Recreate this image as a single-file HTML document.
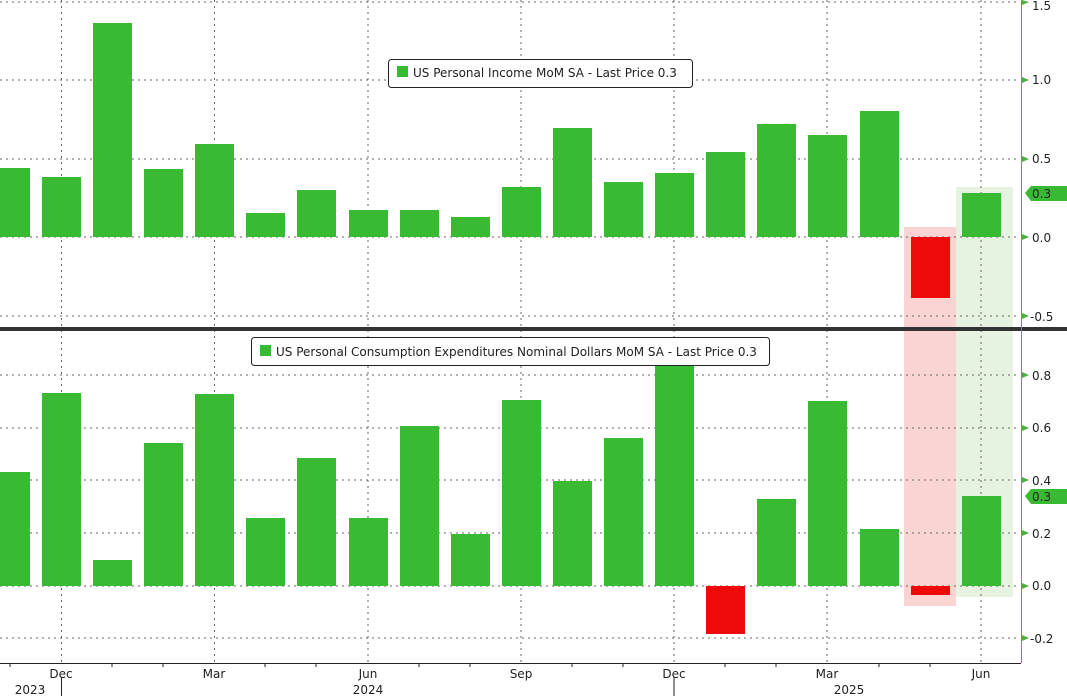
<!DOCTYPE html>
<html><head><style>body{margin:0;background:#fff}svg{display:block}text{font-family:"DejaVu Sans","Liberation Sans",sans-serif;font-size:12px;fill:#222}</style></head><body>
<svg width="1067" height="696" xmlns="http://www.w3.org/2000/svg">
<rect x="904" y="227" width="52" height="379" fill="#f9d4d2"/>
<rect x="956" y="187" width="57" height="410" fill="#e6f3e1"/>
<g stroke="#666" stroke-width="1" stroke-dasharray="2,4">
<line x1="0" y1="2" x2="1020" y2="2"/><line x1="0" y1="80" x2="1020" y2="80"/><line x1="0" y1="159" x2="1020" y2="159"/><line x1="0" y1="237" x2="1020" y2="237"/><line x1="0" y1="316" x2="1020" y2="316"/>
<line x1="0" y1="375" x2="1020" y2="375"/><line x1="0" y1="428" x2="1020" y2="428"/><line x1="0" y1="480" x2="1020" y2="480"/><line x1="0" y1="533" x2="1020" y2="533"/><line x1="0" y1="586" x2="1020" y2="586"/><line x1="0" y1="638" x2="1020" y2="638"/>
<line x1="61.5" y1="0" x2="61.5" y2="663"/><line x1="214.5" y1="0" x2="214.5" y2="663"/><line x1="368" y1="0" x2="368" y2="663"/><line x1="521" y1="0" x2="521" y2="663"/><line x1="674" y1="0" x2="674" y2="663"/><line x1="827" y1="0" x2="827" y2="663"/><line x1="981" y1="0" x2="981" y2="663"/>
</g>
<g fill="#38bb33">
<rect x="-9" y="168" width="39" height="69"/><rect x="42" y="177" width="39" height="60"/><rect x="93" y="23" width="39" height="214"/><rect x="144" y="169" width="39" height="68"/><rect x="195" y="144" width="39" height="93"/><rect x="246" y="213" width="39" height="24"/><rect x="297" y="190" width="39" height="47"/><rect x="349" y="210" width="39" height="27"/><rect x="400" y="210" width="39" height="27"/><rect x="451" y="217" width="39" height="20"/><rect x="502" y="187" width="39" height="50"/><rect x="553" y="128" width="39" height="109"/><rect x="604" y="182" width="39" height="55"/><rect x="655" y="173" width="39" height="64"/><rect x="706" y="152" width="39" height="85"/><rect x="757" y="124" width="39" height="113"/><rect x="808" y="135" width="39" height="102"/><rect x="860" y="111" width="39" height="126"/><rect x="962" y="193" width="39" height="44"/>
</g>
<rect x="911" y="237" width="39" height="61" fill="#ee0a0a"/>
<g fill="#38bb33">
<rect x="-9" y="472" width="39" height="114"/><rect x="42" y="393" width="39" height="193"/><rect x="93" y="560" width="39" height="26"/><rect x="144" y="443" width="39" height="143"/><rect x="195" y="394" width="39" height="192"/><rect x="246" y="518" width="39" height="68"/><rect x="297" y="458" width="39" height="128"/><rect x="349" y="518" width="39" height="68"/><rect x="400" y="426" width="39" height="160"/><rect x="451" y="534" width="39" height="52"/><rect x="502" y="400" width="39" height="186"/><rect x="553" y="481" width="39" height="105"/><rect x="604" y="438" width="39" height="148"/><rect x="655" y="366" width="39" height="220"/><rect x="757" y="499" width="39" height="87"/><rect x="808" y="401" width="39" height="185"/><rect x="860" y="529" width="39" height="57"/><rect x="962" y="496" width="39" height="90"/>
</g>
<rect x="706" y="586" width="39" height="48" fill="#ee0a0a"/>
<rect x="911" y="586" width="39" height="9" fill="#ee0a0a"/>
<rect x="0" y="327" width="1067" height="4" fill="#333"/>
<line x1="1021.5" y1="0" x2="1021.5" y2="663" stroke="#4caf44" stroke-width="1"/>
<g fill="#4caf44">
<polygon points="1022,0 1029,2 1022,5"/><polygon points="1022,77 1029,80 1022,83"/><polygon points="1022,156 1029,159 1022,162"/><polygon points="1022,234 1029,237 1022,240"/><polygon points="1022,313 1029,316 1022,319"/>
<polygon points="1022,372 1029,375 1022,378"/><polygon points="1022,425 1029,428 1022,431"/><polygon points="1022,477 1029,480 1022,483"/><polygon points="1022,530 1029,533 1022,536"/><polygon points="1022,583 1029,586 1022,589"/><polygon points="1022,635 1029,638 1022,641"/>
</g>
<g>
<text x="1032" y="10">1.5</text><text x="1032" y="84">1.0</text><text x="1032" y="163">0.5</text><text x="1032" y="242">0.0</text><text x="1030" y="321">-0.5</text>
<text x="1032" y="380">0.8</text><text x="1032" y="432">0.6</text><text x="1032" y="485">0.4</text><text x="1032" y="538">0.2</text><text x="1032" y="590">0.0</text><text x="1030" y="643">-0.2</text>
</g>
<polygon points="1025,193 1031,186 1067,186 1067,201 1031,201" fill="#38bb33"/><text x="1032" y="198">0.3</text>
<polygon points="1025,496 1031,489 1067,489 1067,504 1031,504" fill="#38bb33"/><text x="1032" y="501">0.3</text>
<line x1="0" y1="663.5" x2="1021" y2="663.5" stroke="#222"/>
<g stroke="#222">
<line x1="10" y1="663" x2="10" y2="667"/><line x1="112" y1="663" x2="112" y2="667"/><line x1="163" y1="663" x2="163" y2="667"/><line x1="265" y1="663" x2="265" y2="667"/><line x1="316" y1="663" x2="316" y2="667"/><line x1="419" y1="663" x2="419" y2="667"/><line x1="470" y1="663" x2="470" y2="667"/><line x1="572" y1="663" x2="572" y2="667"/><line x1="623" y1="663" x2="623" y2="667"/><line x1="725" y1="663" x2="725" y2="667"/><line x1="776" y1="663" x2="776" y2="667"/><line x1="879" y1="663" x2="879" y2="667"/><line x1="930" y1="663" x2="930" y2="667"/>
<line x1="61.5" y1="677" x2="61.5" y2="696"/><line x1="674" y1="677" x2="674" y2="696"/>
</g>
<g text-anchor="middle">
<text x="61" y="678">Dec</text><text x="214" y="678">Mar</text><text x="368" y="678">Jun</text><text x="521" y="678">Sep</text><text x="674" y="678">Dec</text><text x="827" y="678">Mar</text><text x="981" y="678">Jun</text>
<text x="30" y="694">2023</text><text x="368" y="694">2024</text><text x="849" y="694">2025</text>
</g>
<rect x="388.5" y="59.5" width="304" height="28" rx="3" fill="#fff" stroke="#222"/>
<rect x="397" y="66" width="11" height="11" fill="#38bb33"/>
<text x="413" y="77">US Personal Income MoM SA - Last Price 0.3</text>
<rect x="251.5" y="337.5" width="518" height="28" rx="3" fill="#fff" stroke="#222"/>
<rect x="260" y="345" width="11" height="11" fill="#38bb33"/>
<text x="276" y="356">US Personal Consumption Expenditures Nominal Dollars MoM SA - Last Price 0.3</text>
</svg>
</body></html>
